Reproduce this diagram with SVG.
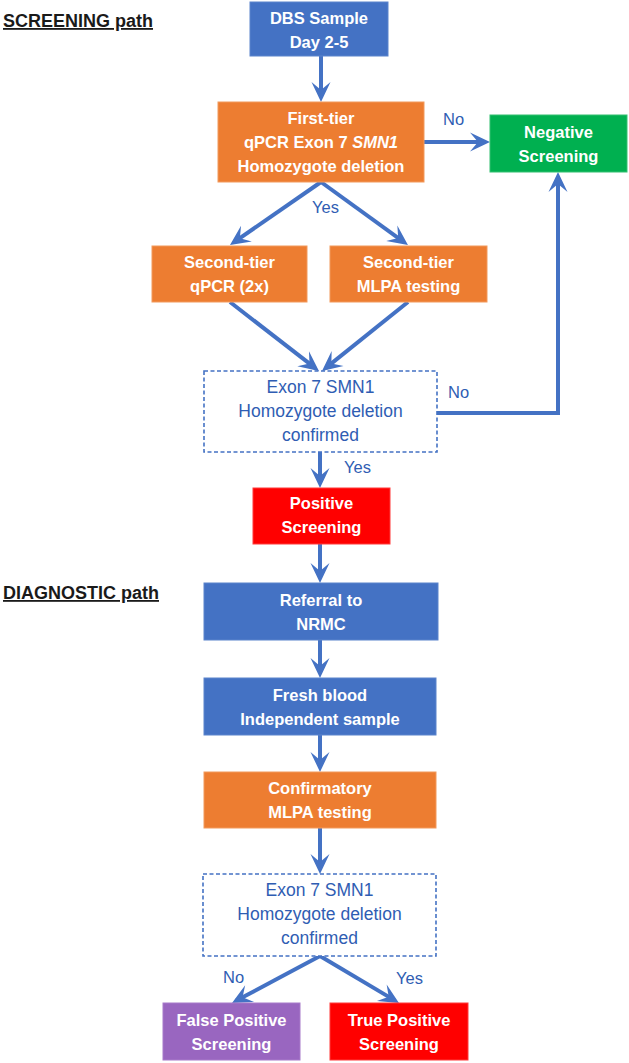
<svg xmlns="http://www.w3.org/2000/svg" width="629" height="1063" viewBox="0 0 629 1063">
<style>
.box{stroke-width:1}
.blue{fill:#4472C4;stroke:#5B84CC}
.orange{fill:#ED7D31;stroke:#F29A5C}
.green{fill:#00B050;stroke:#33C070}
.red{fill:#FF0000;stroke:#FF3A3A}
.purple{fill:#9966C0;stroke:#A87BCA}
.dash{fill:#FFFFFF;stroke:#4472C4;stroke-width:1.6;stroke-dasharray:4 2.5}
.t{font-family:"Liberation Sans",Arial,sans-serif;font-size:16.5px;font-weight:bold;fill:#FFFFFF;text-anchor:middle}
.d{font-family:"Liberation Sans",Arial,sans-serif;font-size:17.5px;fill:#2F5DB3;text-anchor:middle}
.lbl{font-family:"Liberation Sans",Arial,sans-serif;font-size:16.5px;fill:#2F5DB3}
.title{font-family:"Liberation Sans",Arial,sans-serif;font-size:18px;font-weight:bold;fill:#1A1A1A;text-decoration:underline}
.c{fill:none;stroke:#4472C4;stroke-width:4;stroke-linejoin:miter;marker-end:url(#ah)}
</style>
<defs>
<marker id="ah" markerUnits="userSpaceOnUse" viewBox="-21 -11 27 22" refX="-5" refY="0" markerWidth="27" markerHeight="22" orient="auto">
<path d="M0,0 L-20,-9.5 L-12,0 L-20,9.5 Z" fill="#4472C4"/>
</marker>
</defs>

<text class="title" x="3" y="27">SCREENING path</text>
<text class="title" x="3" y="599">DIAGNOSTIC path</text>

<g id="connectors">
<path class="c" d="M321,56 L321,97"/>
<path class="c" d="M423,142 L485,142"/>
<path class="c" d="M321,182 L234.1,242.2"/>
<path class="c" d="M321,182 L403.9,242.1"/>
<path class="c" d="M230,302 L315,367.9"/>
<path class="c" d="M408,302 L325.9,367.9"/>
<path class="c" d="M437,413 L558,413 L558,177"/>
<path class="c" d="M320,452 L320,483"/>
<path class="c" d="M320,544 L320,578"/>
<path class="c" d="M320,640 L320,673"/>
<path class="c" d="M320,735 L320,767"/>
<path class="c" d="M320,828 L320,869"/>
<path class="c" d="M320,956 L236.4,1000.6"/>
<path class="c" d="M320,956 L394.7,1000.4"/>
</g>

<g id="labels">
<text class="lbl" x="443" y="125">No</text>
<text class="lbl" x="312" y="213">Yes</text>
<text class="lbl" x="448" y="398">No</text>
<text class="lbl" x="344" y="473">Yes</text>
<text class="lbl" x="223" y="983">No</text>
<text class="lbl" x="396" y="984">Yes</text>
</g>

<g id="dbs">
<rect class="box blue" x="250" y="2" width="138" height="54"/>
<text class="t" x="319" y="24">DBS Sample</text>
<text class="t" x="319" y="48">Day 2-5</text>
</g>

<g id="first-tier">
<rect class="box orange" x="218" y="102" width="206" height="80"/>
<text class="t" x="321" y="123.5">First-tier</text>
<text class="t" x="321" y="147.5">qPCR Exon 7 <tspan font-style="italic">SMN1</tspan></text>
<text class="t" x="321" y="171.5">Homozygote deletion</text>
</g>

<g id="negative">
<rect class="box green" x="490" y="115" width="137" height="57"/>
<text class="t" x="558.5" y="137.5">Negative</text>
<text class="t" x="558.5" y="161.5">Screening</text>
</g>

<g id="second-qpcr">
<rect class="box orange" x="152" y="246" width="155" height="56"/>
<text class="t" x="229.5" y="268">Second-tier</text>
<text class="t" x="229.5" y="292">qPCR (2x)</text>
</g>

<g id="second-mlpa">
<rect class="box orange" x="330" y="246" width="157" height="56"/>
<text class="t" x="408.5" y="268">Second-tier</text>
<text class="t" x="408.5" y="292">MLPA testing</text>
</g>

<g id="confirm1">
<rect class="dash" x="204" y="371" width="233" height="81"/>
<text class="d" x="320.5" y="393">Exon 7 SMN1</text>
<text class="d" x="320.5" y="417">Homozygote deletion</text>
<text class="d" x="320.5" y="441">confirmed</text>
</g>

<g id="positive">
<rect class="box red" x="253" y="488" width="137" height="56"/>
<text class="t" x="321.5" y="509">Positive</text>
<text class="t" x="321.5" y="533">Screening</text>
</g>

<g id="referral">
<rect class="box blue" x="204" y="583" width="234" height="57"/>
<text class="t" x="321" y="605.5">Referral to</text>
<text class="t" x="321" y="629.5">NRMC</text>
</g>

<g id="fresh-blood">
<rect class="box blue" x="204" y="678" width="232" height="57"/>
<text class="t" x="320" y="700.5">Fresh blood</text>
<text class="t" x="320" y="724.5">Independent sample</text>
</g>

<g id="confirmatory">
<rect class="box orange" x="204" y="772" width="232" height="56"/>
<text class="t" x="320" y="794">Confirmatory</text>
<text class="t" x="320" y="818">MLPA testing</text>
</g>

<g id="confirm2">
<rect class="dash" x="203" y="874" width="233" height="82"/>
<text class="d" x="319.5" y="896">Exon 7 SMN1</text>
<text class="d" x="319.5" y="920">Homozygote deletion</text>
<text class="d" x="319.5" y="944">confirmed</text>
</g>

<g id="false-positive">
<rect class="box purple" x="163" y="1003" width="137" height="57"/>
<text class="t" x="231.5" y="1025.5">False Positive</text>
<text class="t" x="231.5" y="1049.5">Screening</text>
</g>

<g id="true-positive">
<rect class="box red" x="330" y="1003" width="138" height="57"/>
<text class="t" x="399" y="1025.5">True Positive</text>
<text class="t" x="399" y="1049.5">Screening</text>
</g>
</svg>
